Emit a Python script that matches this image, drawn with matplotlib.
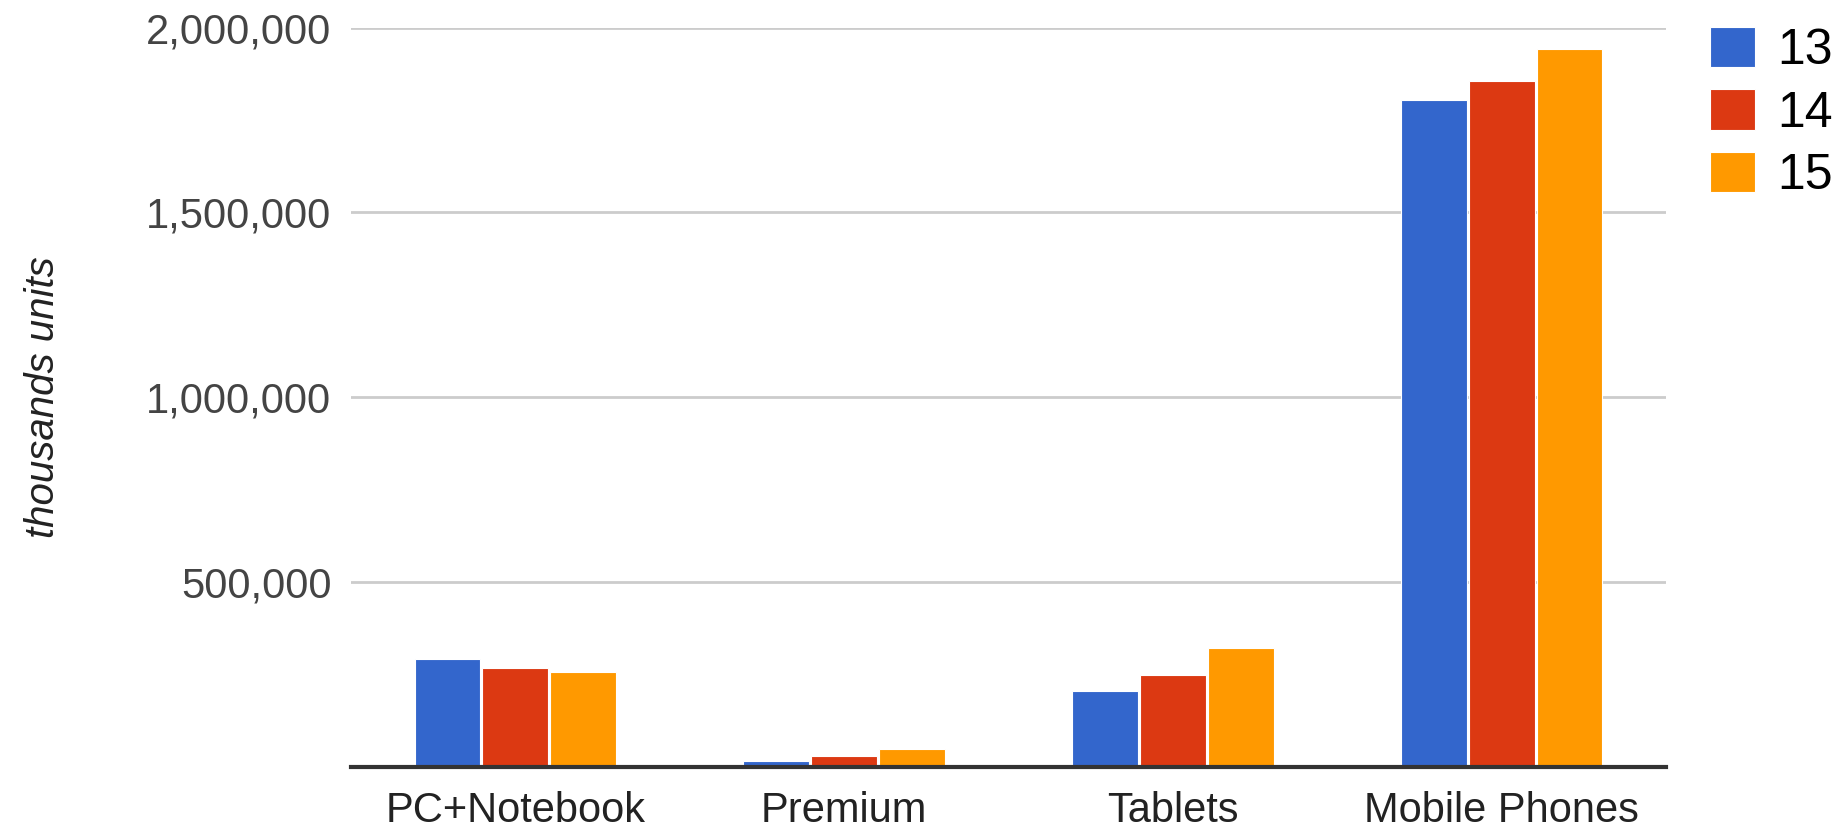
# Unit sales by device category, grouped bars for 13/14/15
import numpy as np
import matplotlib.pyplot as plt
from matplotlib.ticker import FuncFormatter

categories = ["PC+Notebook", "Premium", "Tablets", "Mobile Phones"]
years = ["13", "14", "15"]
sales_13 = [293000, 17000, 206000, 1803000]
sales_14 = [267000, 30000, 249000, 1855000]
sales_15 = [258000, 48000, 321000, 1942000]
colors = ["#3366cc", "#dc3912", "#ff9900"]

plt.rcParams["font.family"] = ["Liberation Sans", "DejaVu Sans"]

fig = plt.figure(figsize=(18.37, 8.27), dpi=100)
ax = fig.add_axes([0.191, 0.0726, 0.716, 0.894])

x = np.arange(len(categories))
width = 0.2
for i, (vals, col, lab) in enumerate(zip([sales_13, sales_14, sales_15], colors, years)):
    ax.bar(x + (i - 1) * 0.206, vals, width, color=col, label=lab,
           edgecolor="white", linewidth=0.8, zorder=3)

ax.set_xlim(-0.5, 3.5)
ax.set_ylim(0, 2000000)
ax.set_yticks([0, 500000, 1000000, 1500000, 2000000])
ax.yaxis.set_major_formatter(FuncFormatter(lambda v, p: "" if v == 0 else f"{int(v):,}"))
ax.grid(axis="y", color="#cccccc", linewidth=2, zorder=0)
ax.set_xticks(x)
ax.set_xticklabels(categories)

for s in ["top", "right", "left"]:
    ax.spines[s].set_visible(False)
ax.spines["bottom"].set_color("#333333")
ax.spines["bottom"].set_linewidth(3)
ax.spines["bottom"].set_zorder(4)

ax.tick_params(axis="y", length=0, pad=14, labelsize=30, labelcolor="#444444")
ax.tick_params(axis="x", length=0, pad=17, labelsize=30, labelcolor="#222222")
ax.set_ylabel("thousands units", fontsize=29, style="italic", color="#222222", labelpad=0)
ax.yaxis.set_label_coords(-0.22, 0.5)

fig.legend(loc="upper left", bbox_to_anchor=(0.92, 0.992), frameon=False,
           fontsize=36, handlelength=0.9, handleheight=0.87, handletextpad=0.45,
           labelspacing=0.3, borderaxespad=0)

fig.savefig("out.png", dpi=100)
